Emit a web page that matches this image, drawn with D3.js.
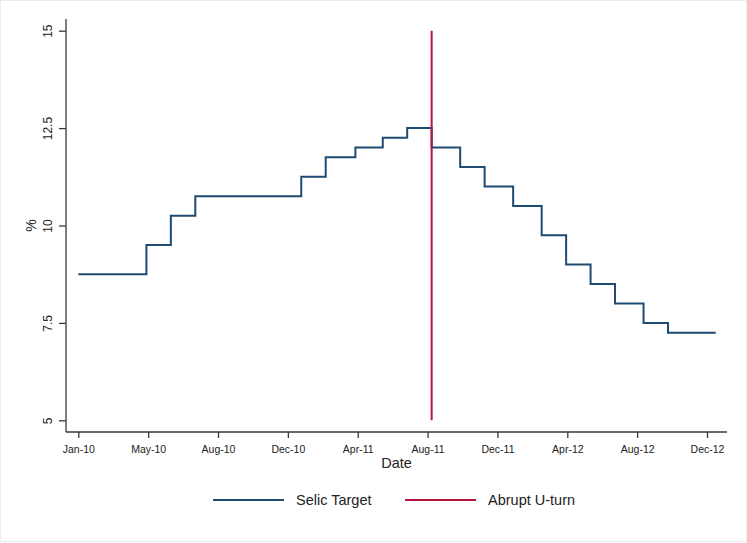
<!DOCTYPE html>
<html>
<head>
<meta charset="utf-8">
<script src="https://cdn.jsdelivr.net/npm/d3@7"></script>
<style>
  html, body { margin: 0; padding: 0; background: #fff; }
  svg { display: block; font-family: "Liberation Sans", Arial, sans-serif; }
</style>
</head>
<body>
<svg id="chart" width="747" height="543"></svg>
<script>
// Selic target (step changes at Copom decisions), % p.a.
var selicDates = ['2010-01-01', '2010-04-28', '2010-06-09', '2010-07-21', '2011-01-19',
  '2011-03-02', '2011-04-22', '2011-06-08', '2011-07-20', '2011-08-31', '2011-10-19',
  '2011-11-30', '2012-01-18', '2012-03-07', '2012-04-18', '2012-05-30', '2012-07-11',
  '2012-08-29', '2012-10-10', '2012-12-31'];
var selicValues = [8.75, 9.5, 10.25, 10.75, 11.25, 11.75, 12, 12.25, 12.5, 12, 11.5,
  11, 10.5, 9.75, 9, 8.5, 8, 7.5, 7.25, 7.25];

// vertical marker
var uturnDate = '2011-08-31';
var uturnRange = [5, 15];

var xTickDates = ['2010-01-01', '2010-05-01', '2010-08-29', '2010-12-27', '2011-04-26',
  '2011-08-24', '2011-12-22', '2012-04-20', '2012-08-18', '2012-12-16'];
var xTickLabels = ['Jan-10', 'May-10', 'Aug-10', 'Dec-10', 'Apr-11', 'Aug-11', 'Dec-11',
  'Apr-12', 'Aug-12', 'Dec-12'];
var yTicks = [5, 7.5, 10, 12.5, 15];

var seriesNames = ['Selic Target', 'Abrupt U-turn'];
var seriesColors = ['#1f4a72', '#b3163e'];

(function () {
  'use strict';

  var parse = d3.utcParse('%Y-%m-%d');
  var svg = d3.select('#chart');

  var x = d3.scaleUtc()
    .domain([parse(xTickDates[0]), parse(xTickDates[xTickDates.length - 1])])
    .range([78.3, 707]);
  var y = d3.scaleLinear().domain([5, 15]).range([420.3, 30.7]);

  var plotLeft = 66, plotRight = 727, plotTop = 19, plotBottom = 432;
  var axisColor = '#3a3a3a';

  // outer frame
  svg.append('rect')
    .attr('x', 0.5).attr('y', 0.5).attr('width', 746).attr('height', 541)
    .attr('fill', 'none').attr('stroke', '#ebebeb');

  // ─── axes ─────────────────────────────────────────────────────────────────
  var xAxis = d3.axisBottom(x)
    .tickValues(xTickDates.map(parse))
    .tickFormat(function (d, i) { return xTickLabels[i]; })
    .tickSize(6).tickSizeOuter(0).tickPadding(8);

  var gx = svg.append('g')
    .attr('transform', 'translate(0,' + plotBottom + ')')
    .call(xAxis);
  gx.select('.domain').remove();
  gx.selectAll('.tick line').attr('stroke', axisColor).attr('stroke-width', 1.3);
  gx.selectAll('.tick text')
    .attr('fill', '#222').style('font-size', '10.5px')
    .style('font-family', '"Liberation Sans", Arial, sans-serif');

  var yAxis = d3.axisLeft(y).tickValues(yTicks).tickSize(7).tickSizeOuter(0)
    .tickFormat(d3.format('~g'));
  var gy = svg.append('g')
    .attr('transform', 'translate(' + plotLeft + ',0)')
    .call(yAxis);
  gy.select('.domain').remove();
  gy.selectAll('.tick line').attr('stroke', axisColor).attr('stroke-width', 1.3);
  gy.selectAll('.tick text')
    .attr('fill', '#222').style('font-size', '12px')
    .style('font-family', '"Liberation Sans", Arial, sans-serif')
    .attr('text-anchor', 'middle').attr('dy', null)
    .attr('x', null)
    .attr('transform', 'translate(-18,0) rotate(-90)')
    .attr('dominant-baseline', 'central');

  svg.append('line')
    .attr('x1', plotLeft).attr('x2', plotLeft)
    .attr('y1', plotTop).attr('y2', plotBottom)
    .attr('stroke', axisColor).attr('stroke-width', 1.3);
  svg.append('line')
    .attr('x1', plotLeft).attr('x2', plotRight)
    .attr('y1', plotBottom).attr('y2', plotBottom)
    .attr('stroke', axisColor).attr('stroke-width', 1.3);

  // axis titles
  svg.append('text')
    .attr('transform', 'translate(31,' + y(10) + ') rotate(-90)')
    .attr('text-anchor', 'middle').attr('dominant-baseline', 'central')
    .style('font-size', '14px').attr('fill', '#222')
    .text('%');
  svg.append('text')
    .attr('x', (plotLeft + plotRight) / 2).attr('y', 468)
    .attr('text-anchor', 'middle')
    .style('font-size', '14.5px').attr('fill', '#222')
    .text('Date');

  // ─── series ───────────────────────────────────────────────────────────────
  var pts = selicDates.map(function (d, i) { return { date: parse(d), value: selicValues[i] }; });
  var line = d3.line()
    .x(function (d) { return x(d.date); })
    .y(function (d) { return y(d.value); })
    .curve(d3.curveStepAfter);

  svg.append('path')
    .datum(pts)
    .attr('d', line)
    .attr('fill', 'none')
    .attr('stroke', seriesColors[0])
    .attr('stroke-width', 2)
    .attr('stroke-linejoin', 'miter');

  svg.append('line')
    .attr('x1', x(parse(uturnDate))).attr('x2', x(parse(uturnDate)))
    .attr('y1', y(uturnRange[0])).attr('y2', y(uturnRange[1]))
    .attr('stroke', seriesColors[1])
    .attr('stroke-width', 2);

  // ─── legend ───────────────────────────────────────────────────────────────
  var legendX = [213, 405];
  var legend = svg.append('g').attr('transform', 'translate(0,500)');
  seriesNames.forEach(function (name, i) {
    legend.append('line')
      .attr('x1', legendX[i]).attr('x2', legendX[i] + 71)
      .attr('y1', 0).attr('y2', 0)
      .attr('stroke', seriesColors[i]).attr('stroke-width', 2);
    legend.append('text')
      .attr('x', legendX[i] + 83).attr('y', 0)
      .attr('dominant-baseline', 'central')
      .style('font-size', '14.5px').attr('fill', '#222')
      .text(name);
  });
})();
</script>
</body>
</html>
